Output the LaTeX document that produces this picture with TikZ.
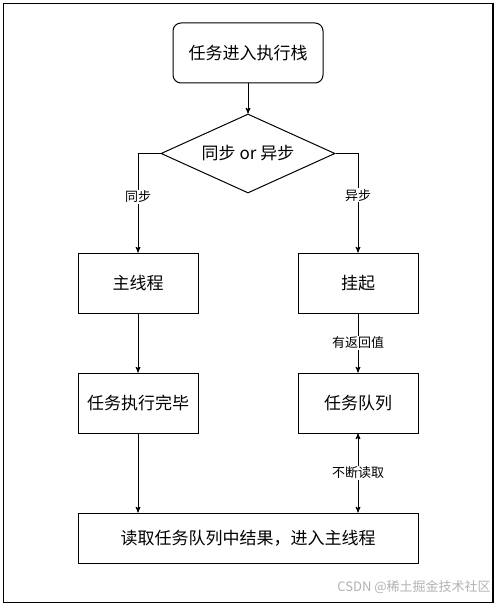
\documentclass[tikz,border=0pt]{standalone}
\usepackage{fontspec}
\setmainfont{Noto Sans CJK SC}
\usetikzlibrary{arrows}
\usetikzlibrary{shapes.geometric}
\tikzset{box/.style={draw, line width=1pt, minimum width=120pt, minimum height=60pt, inner sep=0, font=\fontsize{17}{20}\selectfont}}
\tikzset{judgebox/.style={draw, diamond, line width=1pt, aspect=2.2, minimum width=174pt, minimum height=79pt, inner sep=0, font=\fontsize{17}{20}\selectfont}}
\tikzset{lbl/.style={fill=white, inner sep=1, font=\fontsize{13}{15}\selectfont}}

\begin{document}
\begin{tikzpicture} [x=1pt, y=-1pt, line width=1pt, >=stealth']
\useasboundingbox (0,0) rectangle (497,607);
\draw[line width=1.3pt] (3.5,3.5) rectangle (493,602.5);

\node[box, rounded corners=8pt, minimum width=150pt] (start) at (248,53) {任务进入执行栈};
\node[judgebox] (judge) at (248,153.5) {同步 or 异步};
\node[box] (mainthread) at (138,283) {主线程};
\node[box] (hang) at (358,283) {挂起};
\node[box] (done) at (138,403) {任务执行完毕};
\node[box] (queue) at (358,403) {任务队列};
\node[box, minimum width=340pt, minimum height=50pt] (result) at (248,538) {读取任务队列中结果，进入主线程};

\draw[->] (start) -- (judge);
\draw[->] (judge.west) -| node[lbl, pos=.72] {同步} (mainthread);
\draw[->] (judge.east) -| node[lbl, pos=.71] {异步} (hang);
\draw[->] (mainthread) -- (done);
\draw[->] (hang) -- node[lbl] {有返回值} (queue);
\draw[->] (done) -- (done.south |- result.north);
\draw[<->] (queue) -- node[lbl] {不断读取} (queue.south |- result.north);

\node[text=gray!60, font=\fontsize{13}{15}\selectfont] (mark) at (414,587) {CSDN @稀土掘金技术社区};
\end{tikzpicture}
\end{document}
